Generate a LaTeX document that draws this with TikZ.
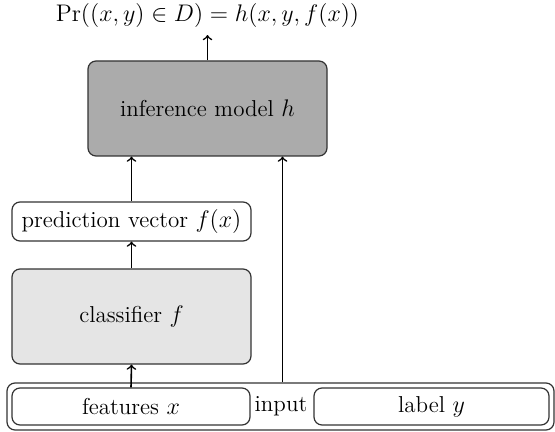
\documentclass[tikz,border=0pt]{standalone}
\usepackage{tikz}
\usepackage{amsmath}
\usepackage{amssymb}
\usepackage{xcolor}
\usetikzlibrary{shapes,arrows,positioning,calc}

\begin{document}
\begin{tikzpicture}[x=0.5pt, y=-0.5pt, font=\fontsize{11.5}{14}\selectfont]
  \tikzstyle{block}=[rectangle, draw=black!80, semithick, rounded corners=4pt, minimum width=119.5pt, minimum height=47.5pt, inner sep=0pt, align=center]
  \tikzstyle{small}=[rectangle, draw=black!80, semithick, rounded corners=4pt, minimum height=18.5pt, inner sep=0pt, align=center]
  \tikzstyle{link}=[->, thick]

  \useasboundingbox (0,0) rectangle (555,432);

  % Bloques principales
  \node[block, fill=black!33] (inference) at (207.5,108.5) {inference model $h$};
  \node[small, minimum width=119.5pt, minimum height=19.5pt] (prediction) at (131.5,221.5) {prediction vector $f(x)$};
  \node[block, fill=black!10] (classifier) at (131.5,316.5) {classifier $f$};

  % Entrada
  \node[small, minimum width=273.5pt, minimum height=23.5pt] (input) at (280.5,406.5) {};
  \node[small, minimum width=119pt] (features) at (131,406.5) {features $x$};
  \node[small, minimum width=117.5pt] (label) at (431.5,406.5) {label $y$};
  \node (inputtext) at (281,406.5) {input};

  % Salida
  \node (result) at (207.5,16) {$\Pr((x,y) \in D) = h(x,y,f(x))$};

  % Conexiones
  \draw[link] (features.north) -- (classifier.south);
  \draw[link] (classifier.north) -- (prediction.south);
  \draw[link] (prediction.north) -- (prediction.north |- inference.south);
  \draw[link] ([xshift=1pt]input.north) -- ([xshift=1pt]input.north |- inference.south);
  \draw[link] (inference.north) -- (result.south);
\end{tikzpicture}
\end{document}
